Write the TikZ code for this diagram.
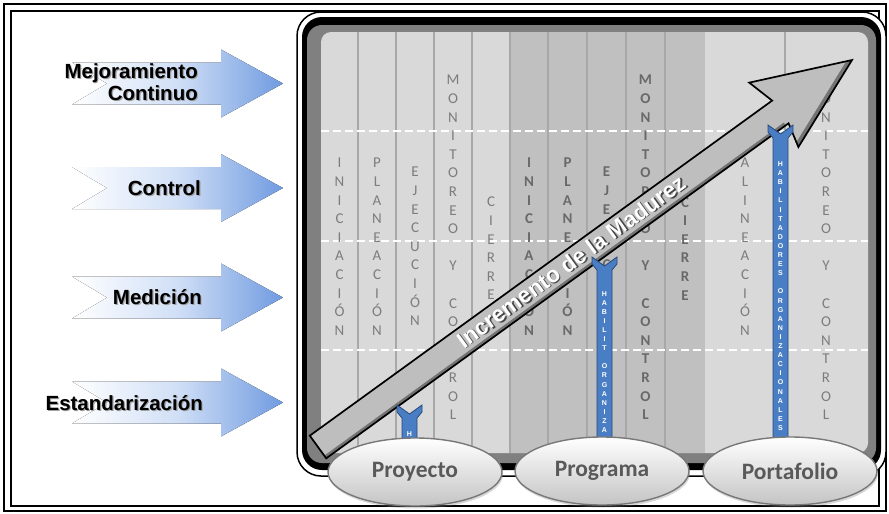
\documentclass[tikz,border=0pt]{standalone}
\usepackage{fontspec}
\setmainfont{Liberation Sans}
\newfontfamily\calfont{Carlito}
\usetikzlibrary{shapes.geometric,shadows}

\definecolor{panellight}{RGB}{217,217,217}
\definecolor{paneldark}{RGB}{192,192,192}
\definecolor{panelband}{RGB}{128,128,128}
\definecolor{sepline}{RGB}{168,168,168}
\definecolor{lettergray}{RGB}{125,125,125}
\definecolor{letterdark}{RGB}{105,105,105}
\definecolor{barblue}{RGB}{74,126,196}
\definecolor{baredge}{RGB}{40,72,120}
\definecolor{arrowblue}{RGB}{112,155,224}
\definecolor{arrowmid}{RGB}{208,223,246}
\definecolor{shaftgray}{RGB}{190,190,190}
\definecolor{shaftdark}{RGB}{115,115,115}
\definecolor{ovaltext}{RGB}{89,89,89}
\definecolor{ovaledge}{RGB}{120,120,120}
\definecolor{ovalbottom}{RGB}{196,196,196}
\definecolor{labelshadow}{RGB}{160,160,160}
\definecolor{growshade}{RGB}{70,70,70}

% text with a soft offset shadow, set in one box
\newcommand\shadowed[2]{\rlap{\kern1.2pt\raisebox{-1.2pt}{\textcolor{#1}{#2}}}#2}

\tikzset{
  colword/.style={font=\calfont\fontsize{15}{18.6}\selectfont, text=lettergray,
    align=center, inner sep=0pt, anchor=north},
  colwordbold/.style={colword, font=\calfont\bfseries\fontsize{15}{18.6}\selectfont, text=letterdark},
  bartext/.style={font=\bfseries\fontsize{7}{9.1}\selectfont, text=white,
    align=center, inner sep=0pt, anchor=north},
  barfill/.style={fill=barblue, draw=baredge, line width=0.8},
  sidelabel/.style={font=\bfseries\fontsize{20.5}{22}\selectfont, inner sep=0pt, anchor=base east},
  oval/.style={ellipse, minimum width=174, minimum height=68, inner sep=0pt,
    draw=ovaledge, line width=1.4, top color=white, bottom color=ovalbottom,
    font=\calfont\bfseries\fontsize{23.5}{23.5}\selectfont, text=ovaltext,
    drop shadow={shadow xshift=1pt, shadow yshift=-2.5pt, opacity=0.3}},
  growlabel/.style={font=\bfseries\fontsize{22.5}{22.5}\selectfont, inner sep=0pt, transform shape, text=white}
}

% main diagonal arrow outline, in its own rotated frame
\newcommand\growpath{(0,-14) -- (571,-14) -- (563,-42) -- (659.5,0) -- (565,39) -- (571,14) -- (0,14) -- cycle}

% fading block arrow on the left, centred at height #1
\newcommand\sidearrow[1]{%
  \begin{scope}[shift={(0,#1)}]
    \fill[left color=white, right color=arrowblue, middle color=arrowmid]
      (72,-21) -- (221,-21) -- (221,-34) -- (283,0) -- (221,34) -- (221,21) -- (72,21) -- (107,0) -- cycle;
  \end{scope}}

% blue bar: #1 name, #2 x centre, #3 top, #4 local bottom, #5 local text top, #6 text
\newcommand\habbar[6]{%
  \begin{scope}[shift={(#2,#3)}]
    \filldraw[barfill] (-12.5,0) -- (0,9) -- (12.5,0) -- (12.5,7) -- (7.5,13) -- (7.5,#4)
      -- (-7.5,#4) -- (-7.5,13) -- (-12.5,7) -- cycle;
    \begin{scope}
      \clip (-7,14) rectangle (7,#4);
      \node[bartext] (#1) at (0,#5) {#6};
    \end{scope}
  \end{scope}}

\begin{document}
\begin{tikzpicture}[x=1pt, y=-1pt]
  \useasboundingbox (0,0) rectangle (889,514);
  \fill[white] (0,0) rectangle (889,514);

  % double frame round the whole figure
  \draw[line width=1.6] (4,4) rectangle (886,511);
  \draw[line width=1.1] (11,11) rectangle (879,506);

  % rounded panel with bevelled border
  \draw[line width=1.5, fill=white, rounded corners=24] (297,12) rectangle (886,476);
  \fill[black, rounded corners=20] (302,17) rectangle (881,470);
  \fill[panelband, rounded corners=15] (307,25) rectangle (876,463);
  \fill[panellight, rounded corners=10] (321,32) rectangle (868,453);
  \fill[paneldark] (510,32) rectangle (705,453);

  % column separators
  \foreach \x in {358,396,434,472,510,548,587,626,665,785}
    \draw[sepline, line width=1.3] (\x,32) -- (\x,453);

  % level separators
  \foreach \y in {131,241,350}
    \draw[white, line width=1.6, dash pattern=on 8pt off 4pt] (321,\y) -- (868,\y);

  % process groups: project
  \node[colword] (pini) at (339.5,158) {I\\N\\I\\C\\I\\A\\C\\I\\Ó\\N};
  \node[colword] (ppla) at (377,158) {P\\L\\A\\N\\E\\A\\C\\I\\Ó\\N};
  \node[colword] (peje) at (415,167) {E\\J\\E\\C\\U\\C\\I\\Ó\\N};
  \node[colword] (pmon) at (453,75) {M\\O\\N\\I\\T\\O\\R\\E\\O\\[18.6pt]Y\\[18.6pt]C\\O\\N\\T\\R\\O\\L};
  \node[colword] (pcie) at (491,197) {C\\I\\E\\R\\R\\E};

  % process groups: programme
  \node[colwordbold] (gini) at (529,158) {I\\N\\I\\C\\I\\A\\C\\I\\Ó\\N};
  \node[colwordbold] (gpla) at (567.5,158) {P\\L\\A\\N\\E\\A\\C\\I\\Ó\\N};
  \node[colwordbold] (geje) at (606.5,167) {E\\J\\E\\C\\U\\C\\I\\Ó\\N};
  \node[colwordbold] (gmon) at (645.5,75) {M\\O\\N\\I\\T\\O\\R\\E\\O\\[18.6pt]Y\\[18.6pt]C\\O\\N\\T\\R\\O\\L};
  \node[colwordbold] (gcie) at (685,197) {C\\I\\E\\R\\R\\E};

  % process groups: portfolio
  \node[colword] (fali) at (745,158) {A\\L\\I\\N\\E\\A\\C\\I\\Ó\\N};
  \node[colword] (fmon) at (826,75) {M\\O\\N\\I\\T\\O\\R\\E\\O\\[18.6pt]Y\\[18.6pt]C\\O\\N\\T\\R\\O\\L};

  % maturity arrow
  \begin{scope}[shift={(318,447)}, rotate=35.93]
    \fill[shaftdark] \growpath;
    \begin{scope}
      \clip \growpath;
      \fill[shaftgray, shift={(-3,-3.5)}] \growpath;
    \end{scope}
    \draw[black, line width=1.7, line join=miter] \growpath;
    \node[growlabel] (growtext) at (314,-1) {\shadowed{growshade}{Incremento de la Madurez}};
  \end{scope}

  % organisational enablers, standing on the arrow
  \habbar{barproy}{409.5}{405}{41}{26.5}{H}
  \habbar{barprog}{604.5}{257}{189}{34}{H\\A\\B\\I\\L\\I\\T\\[9.1pt]O\\R\\G\\A\\N\\I\\Z\\A}
  \habbar{barport}{780.5}{125}{321}{36.5}{H\\A\\B\\I\\L\\I\\T\\A\\D\\O\\R\\E\\S\\[9.1pt]O\\R\\G\\A\\N\\I\\Z\\A\\C\\I\\O\\N\\A\\L\\E\\S}

  % portfolio levels
  \node[oval] (proyecto) at (415,472) {Proyecto};
  \node[oval] (programa) at (602,471) {Programa};
  \node[oval] (portafolio) at (790,471) {Portafolio};

  % capability stages
  \sidearrow{83.5}
  \sidearrow{188}
  \sidearrow{297.5}
  \sidearrow{402.5}

  \node[sidelabel] (mejora) at (198,78) {\shadowed{labelshadow}{Mejoramiento}};
  \node[sidelabel] (continuo) at (198,100) {\shadowed{labelshadow}{Continuo}};
  \node[sidelabel] (control) at (201,195) {\shadowed{labelshadow}{Control}};
  \node[sidelabel] (medicion) at (202,304.5) {\shadowed{labelshadow}{Medición}};
  \node[sidelabel] (estandar) at (203,410) {\shadowed{labelshadow}{Estandarización}};
\end{tikzpicture}
\end{document}
